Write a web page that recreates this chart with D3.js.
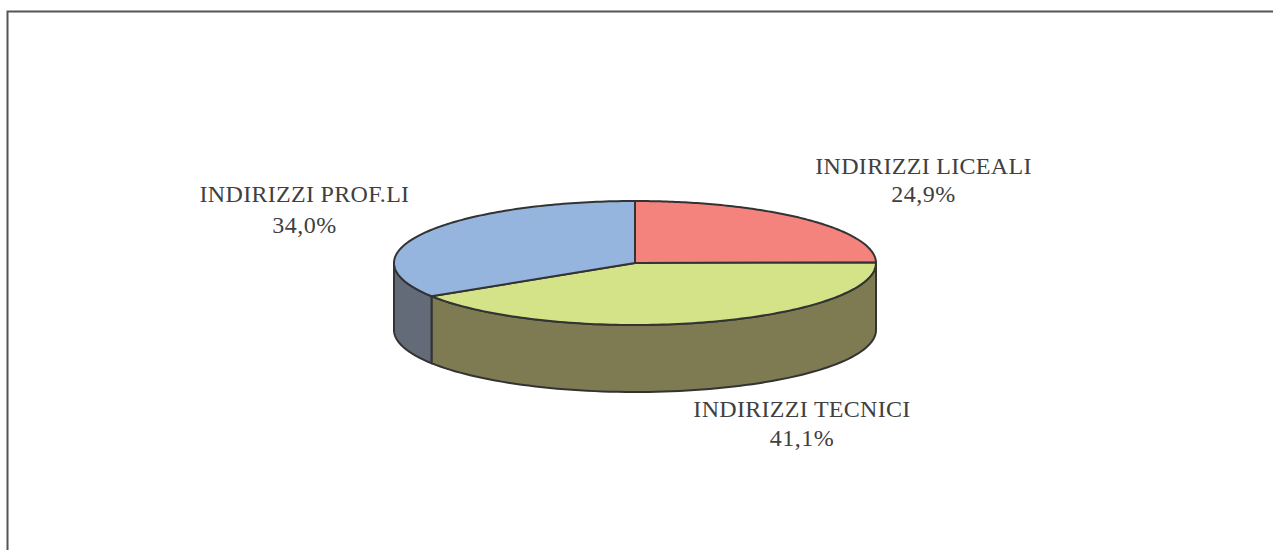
<!DOCTYPE html>
<html><head><meta charset="utf-8">
<script src="https://cdn.jsdelivr.net/npm/d3@7"></script>
<style>html,body{margin:0;padding:0;background:#fff;}svg{display:block;}</style>
</head><body>
<svg id="c" width="1273" height="550"></svg>
<script>
const categories = ["INDIRIZZI LICEALI", "INDIRIZZI TECNICI", "INDIRIZZI PROF.LI"];
const values = [24.9, 41.1, 34.0];
const valueLabels = ["24,9%", "41,1%", "34,0%"];
const topColors = ["#F4837E", "#D4E288", "#95B5DE"];
const sideColors = ["#7A4240", "#7E7B53", "#636B79"];

const svg = d3.select("#c");
svg.append("rect").attr("x", 7.5).attr("y", 11.5).attr("width", 1300).attr("height", 600)
  .attr("fill", "none").attr("stroke", "#555").attr("stroke-width", 2);

const cx = 635, cy = 263, rx = 241, ry = 62, depth = 67;
const pie = d3.pie().sort(null).value(d => d)(values);
const pt = (a, dy = 0) => [cx + rx * Math.sin(a), cy - ry * Math.cos(a) + dy];

const g = svg.append("g");
const stroke = "#333", sw = 2;

// sides (visible front half: angles PI/2 .. 3PI/2)
pie.forEach((s, i) => {
  const a0 = Math.max(s.startAngle, Math.PI / 2), a1 = Math.min(s.endAngle, 3 * Math.PI / 2);
  if (a1 <= a0) return;
  const n = 80, top = [], bot = [];
  for (let k = 0; k <= n; k++) { const a = a0 + (a1 - a0) * k / n; top.push(pt(a)); bot.push(pt(a, depth)); }
  const poly = top.concat(bot.reverse());
  g.append("path").attr("d", d3.line()(poly) + "Z")
    .attr("fill", sideColors[i]).attr("stroke", stroke).attr("stroke-width", sw).attr("stroke-linejoin", "round");
});

// tops
pie.forEach((s, i) => {
  const n = 120, pts = [[cx, cy]];
  for (let k = 0; k <= n; k++) { const a = s.startAngle + (s.endAngle - s.startAngle) * k / n; pts.push(pt(a)); }
  g.append("path").attr("d", d3.line()(pts) + "Z")
    .attr("fill", topColors[i]).attr("stroke", stroke).attr("stroke-width", sw).attr("stroke-linejoin", "round");
});

// labels
const labelPos = [[923.5, 174, 202], [802, 417, 446], [304.5, 202, 233]];
categories.forEach((c, i) => {
  const t = svg.append("text").attr("text-anchor", "middle")
    .attr("font-family", "'Liberation Serif', 'Times New Roman', serif").attr("font-size", 24)
    .attr("fill", "#404040");
  t.append("tspan").attr("x", labelPos[i][0]).attr("y", labelPos[i][1]).attr("letter-spacing", 0.3).text(c);
  t.append("tspan").attr("x", labelPos[i][0]).attr("y", labelPos[i][2]).attr("letter-spacing", 0.5).text(valueLabels[i]);
});
</script>
</body></html>
